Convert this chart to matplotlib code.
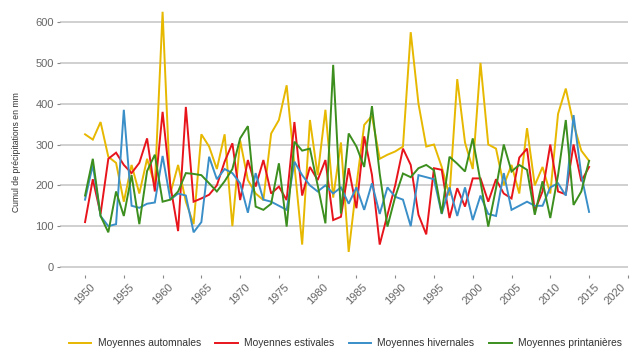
"""
precipitations_saisons.py

Cumul annuel des précipitations par saison (mm), 1950-2015.
Une courbe par saison, légende en bas.
"""

import matplotlib
matplotlib.use("Agg")
import matplotlib.pyplot as plt

YEARS = list(range(1950, 2016))

AUTOMNE = [
    325, 312, 355, 270, 255, 160, 250, 180, 265, 200,
    625, 180, 250, 160, 105, 325, 295, 240, 325, 100,
    310, 213, 180, 164, 327, 360, 445, 250, 55, 360,
    225, 385, 170, 305, 37, 200, 348, 370, 265, 275,
    283, 295, 575, 400, 295, 300, 245, 175, 460, 305,
    240, 500, 300, 290, 200, 250, 180, 340, 200, 245,
    180, 375, 437, 350, 285, 260,
]
ETE = [
    110, 215, 130, 265, 280, 250, 230, 255, 315, 185,
    380, 200, 88, 392, 160, 168, 177, 200, 258, 303,
    164, 262, 197, 262, 180, 197, 164, 355, 175, 245,
    213, 262, 115, 123, 242, 144, 320, 226, 55, 128,
    200, 290, 250, 128, 80, 242, 238, 120, 193, 148,
    217, 217, 160, 215, 180, 168, 268, 290, 138, 185,
    300, 185, 178, 300, 210, 245,
]
HIVER = [
    165, 250, 125, 100, 105, 385, 150, 145, 155, 158,
    272, 165, 180, 175, 85, 110, 270, 215, 240, 230,
    205, 133, 230, 165, 160, 150, 140, 258, 225, 200,
    185, 200, 180, 195, 155, 195, 140, 205, 130, 195,
    172, 165, 100, 225, 220, 215, 130, 195, 125, 195,
    115, 175, 130, 125, 230, 140, 150, 160, 150, 150,
    195, 205, 175, 372, 225, 135,
]
PRINTEMPS = [
    175, 265, 125, 85, 185, 125, 225, 105, 235, 275,
    160, 165, 185, 230, 228, 225, 205, 185, 210, 240,
    315, 345, 148, 140, 155, 254, 99, 307, 285, 290,
    200, 107, 495, 131, 327, 295, 245, 394, 229, 99,
    172, 229, 220, 242, 250, 237, 131, 270, 253, 234,
    315, 209, 99, 193, 300, 234, 250, 238, 128, 210,
    120, 225, 360, 152, 185, 260,
]

SERIES = ["Moyennes automnales", "Moyennes estivales",
          "Moyennes hivernales", "Moyennes printanières"]
COLORS = ["#E7B800", "#E8141C", "#3A8FC8", "#3C8F1E"]

X_TICKS = list(range(1950, 2025, 5))
Y_TICKS = list(range(0, 700, 100))

plt.rcParams["font.family"] = ["Liberation Sans", "DejaVu Sans"]


def main():
    fig = plt.figure(figsize=(6.37, 3.53), dpi=100)
    fig.patch.set_facecolor("white")
    ax = fig.add_axes([0.0942, 0.2204, 0.8914, 0.7578])

    for vals, label, col in zip([AUTOMNE, ETE, HIVER, PRINTEMPS], SERIES, COLORS):
        ax.plot(YEARS, vals, color=col, linewidth=1.4, label=label,
                solid_joinstyle="miter")

    ax.set_xlim(1946.77, 2020.0)
    ax.set_ylim(-20, 635)
    ax.set_xticks(X_TICKS)
    ax.set_yticks(Y_TICKS)
    ax.set_xticklabels([str(x) for x in X_TICKS], rotation=45, ha="center",
                       fontsize=8, color="#666666")
    ax.set_yticklabels([str(y) for y in Y_TICKS], fontsize=8, color="#666666")
    ax.tick_params(axis="both", length=2.5, width=0.8, color="#888888", pad=2)
    # last year label sits on the right border; nudge it inward a little
    ax.get_xticklabels()[-1].set_horizontalalignment("right")

    ax.yaxis.grid(True, color="#C4C4C4", linewidth=1.1)
    ax.xaxis.grid(False)
    ax.set_axisbelow(True)
    for side in ["top", "right", "bottom", "left"]:
        ax.spines[side].set_visible(False)

    ax.set_ylabel("Cumul de précipitations en mm", fontsize=6.2, color="#333333")
    ax.yaxis.set_label_coords(-0.068, 0.46)

    fig.legend(loc="center", bbox_to_anchor=(0.542, 0.028), ncol=4, frameon=False,
               fontsize=7.4, handlelength=2.2, columnspacing=1.4, handletextpad=0.6,
               labelcolor="#333333")

    fig.savefig("out.png", dpi=100, facecolor="white")
    plt.close(fig)


if __name__ == "__main__":
    main()
